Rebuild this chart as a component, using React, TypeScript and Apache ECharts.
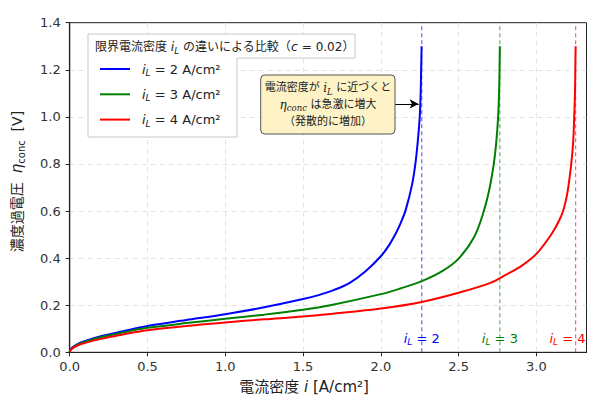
import React, { useEffect, useRef } from "react";
import * as echarts from "echarts";

const blueData: number[][] = [
  [0, 0], [0.004, 0.01], [0.01, 0.016], [0.02, 0.022], [0.05, 0.035], [0.1, 0.048], [0.2, 0.068],
  [0.3, 0.083], [0.4, 0.098], [0.5, 0.112], [0.75, 0.137], [1.0, 0.162], [1.25, 0.191],
  [1.5, 0.226], [1.6, 0.243], [1.7, 0.265], [1.8, 0.295], [1.9, 0.343], [2.0, 0.408], [2.05, 0.452],
  [2.1, 0.51], [2.13, 0.553], [2.16, 0.605], [2.2, 0.71], [2.222, 0.8], [2.238, 0.9],
  [2.25, 1.0], [2.256, 1.1], [2.259, 1.2], [2.262, 1.3],
];
const greenData: number[][] = [
  [0, 0], [0.004, 0.009], [0.01, 0.014], [0.02, 0.02], [0.05, 0.032], [0.1, 0.045], [0.2, 0.064],
  [0.3, 0.078], [0.4, 0.092], [0.5, 0.104], [0.75, 0.124], [1.0, 0.142], [1.25, 0.16],
  [1.5, 0.181], [1.675, 0.2], [2.0, 0.247], [2.125, 0.271], [2.263, 0.302], [2.4, 0.347],
  [2.5, 0.398], [2.6, 0.49], [2.662, 0.6], [2.7, 0.7], [2.726, 0.8], [2.743, 0.9],
  [2.754, 1.0], [2.76, 1.1], [2.763, 1.2], [2.765, 1.3],
];
const redData: number[][] = [
  [0, 0], [0.004, 0.008], [0.01, 0.012], [0.02, 0.018], [0.05, 0.029], [0.1, 0.04], [0.2, 0.057],
  [0.3, 0.07], [0.4, 0.083], [0.5, 0.094], [0.75, 0.112], [1.0, 0.127], [1.25, 0.14],
  [1.5, 0.152], [1.675, 0.163], [2.0, 0.186], [2.263, 0.214], [2.5, 0.253], [2.705, 0.295],
  [2.8, 0.328], [2.9, 0.365], [3.0, 0.418], [3.1, 0.505], [3.15, 0.565], [3.177, 0.612],
  [3.2, 0.68], [3.224, 0.8], [3.237, 0.9], [3.243, 1.0], [3.248, 1.1], [3.25, 1.2], [3.252, 1.3],
];

const limitValues = [2, 3, 4];
const limitLinePositions = [2.263, 2.765, 3.252];
const limitLabelX = [2.263, 2.765, 3.2];
const limitLabelY = 0.06;
const yRange = [0, 1.4];
const seriesNames = ["iL = 2 A/cm²", "iL = 3 A/cm²", "iL = 4 A/cm²"];
const colors = ["#0000ff", "#008000", "#ff0000"];
const xTicks = [0, 0.5, 1.0, 1.5, 2.0, 2.5, 3.0];
const arrowStart = [2.093, 1.055];
const arrowEnd = [2.243, 1.055];

const FONT = "DejaVu Sans, 'Noto Sans CJK JP', sans-serif";

export default function App() {
  const ref = useRef<HTMLDivElement>(null);
  useEffect(() => {
    document.body.style.margin = "0";
    if (!ref.current) return;
    const chart = echarts.init(ref.current, undefined, { renderer: "svg" });
    const allData = [blueData, greenData, redData];
    const mathRich = (size: number, color: string) => ({
      i: { fontStyle: "italic", fontSize: size, color, fontFamily: FONT, lineHeight: size + 4 },
      s: { fontStyle: "italic", fontSize: size * 0.7, color, fontFamily: FONT, verticalAlign: "bottom", lineHeight: size + 4 },
      t: { fontSize: size, color, fontFamily: FONT, lineHeight: size + 4 },
    });
    const vlines: any[] = limitLinePositions.map((x, k) => ({
      name: "limit" + k,
      type: "line",
      data: [[x, yRange[0]], [x, yRange[1]]],
      showSymbol: false,
      silent: true,
      lineStyle: { color: colors[k], type: [4, 3], width: 1.2, opacity: 0.6 },
      itemStyle: { color: colors[k] },
      z: 2,
    }));
    const series: any[] = allData.map((d, k) => ({
      name: seriesNames[k],
      type: "line",
      data: d,
      showSymbol: false,
      smooth: 0.35,
      lineStyle: { color: colors[k], width: 2 },
      itemStyle: { color: colors[k] },
      z: 3,
      markLine:
        k === 0
          ? {
              silent: true,
              symbol: ["none", "arrow"],
              symbolSize: [7, 9],
              animation: false,
              label: { show: false },
              lineStyle: { color: "#000", type: "solid", width: 1, opacity: 1 },
              data: [[{ coord: arrowStart }, { coord: arrowEnd }]],
            }
          : undefined,
      markPoint: {
        silent: true,
        animation: false,
        symbol: "circle",
        symbolSize: 0,
        data: [
          {
            coord: [limitLabelX[k], limitLabelY],
            label: {
              show: true,
              position: "inside",
              formatter: `{i|i}{s|L}{t| = ${limitValues[k]}}`,
              rich: mathRich(13, colors[k]),
            },
          },
        ],
      },
    }));

    const option: any = {
      animation: false,
      backgroundColor: "#fff",
      textStyle: { fontFamily: FONT },
      grid: {
        left: 69.7, right: 4.5, top: 22.7, bottom: 52.7,
        show: true, borderColor: "#222", borderWidth: 1, backgroundColor: "transparent",
      },
      xAxis: {
        type: "value", min: 0, max: 3.322, interval: 0.5,
        axisLine: { lineStyle: { color: "#222", width: 1.2 } },
        axisTick: { show: true, inside: false, length: 4, lineStyle: { color: "#222" } },
        axisLabel: {
          color: "#333", fontSize: 13, margin: 8, fontFamily: FONT, showMaxLabel: false,
          formatter: (v: number) => (xTicks.some((t) => Math.abs(t - v) < 1e-6) ? v.toFixed(1) : ""),
        },
        splitLine: { show: true, showMinLine: false, showMaxLine: false, lineStyle: { color: "#dcdcdc", type: [5, 4], width: 0.8 } },
        name: "電流密度 {i|i} [A/cm²]",
        nameLocation: "middle",
        nameGap: 27,
        nameTextStyle: {
          fontSize: 15, color: "#222", fontFamily: FONT, padding: [0, 48, 0, 0],
          rich: { i: { fontStyle: "italic", fontSize: 15, color: "#222", fontFamily: FONT } },
        },
      },
      yAxis: {
        type: "value", min: yRange[0], max: yRange[1], interval: 0.2,
        axisLine: { show: true, lineStyle: { color: "#222", width: 1.2 } },
        axisTick: { show: true, inside: false, length: 4, lineStyle: { color: "#222" } },
        axisLabel: { color: "#333", fontSize: 13, margin: 9, fontFamily: FONT, formatter: (v: number) => v.toFixed(1) },
        splitLine: { show: true, showMinLine: false, showMaxLine: false, lineStyle: { color: "#dcdcdc", type: [5, 4], width: 0.8 } },
        name: "濃度過電圧  {e|η}{c|conc}  [V]",
        nameLocation: "middle",
        nameGap: 43,
        nameRotate: 90,
        nameTextStyle: {
          fontSize: 14, color: "#222", fontFamily: FONT, padding: [0, 0, 0, 12],
          rich: {
            e: { fontStyle: "italic", fontSize: 15, color: "#222", fontFamily: FONT, lineHeight: 20 },
            c: { fontSize: 10, color: "#222", fontFamily: FONT, verticalAlign: "bottom", lineHeight: 20 },
          },
        },
      },
      legend: {
        show: true,
        orient: "vertical",
        left: 100,
        top: 62.5,
        padding: 0,
        itemGap: 10.3,
        itemWidth: 30,
        itemHeight: 2,
        icon: "rect",
        data: seriesNames,
        selectedMode: false,
        formatter: (name: string) => {
          const n = name.split(" = ")[1].split(" ")[0];
          return `{i|i}{s|L}{t| = ${n} A/cm²}`;
        },
        textStyle: {
          padding: [0, 0, 0, 7],
          rich: mathRich(13, "#222"),
        },
        z: 10,
      },
      graphic: [
        {
          type: "polygon",
          z: 5,
          shape: { points: [[88, 34], [355, 34], [355, 58], [237, 58], [237, 137], [88, 137]] },
          style: { fill: "rgba(255,255,255,0.9)", stroke: "#c8c8c8", lineWidth: 1 },
        },
        {
          type: "text",
          z: 6,
          x: 95,
          y: 46.5,
          style: {
            text: "限界電流密度 {i|i}{s|L} の違いによる比較（{i|c} = 0.02）",
            fontSize: 12,
            fill: "#222",
            fontFamily: FONT,
            verticalAlign: "middle",
            rich: {
              i: { fontStyle: "italic", fontSize: 12.5, fontFamily: FONT, fill: "#222", lineHeight: 17 },
              s: { fontStyle: "italic", fontSize: 9, fontFamily: FONT, fill: "#222", verticalAlign: "bottom", lineHeight: 17 },
            },
          },
        },
        {
          type: "rect",
          z: 5,
          shape: { x: 260.7, y: 75, width: 134.3, height: 59, r: 4 },
          style: { fill: "#fdf3c6", stroke: "#555", lineWidth: 1 },
        },
        {
          type: "text",
          z: 6,
          x: 328,
          y: 104.5,
          style: {
            text: "電流密度が {i|i}{s|L} に近づくと\n{i|η}{s|conc} は急激に増大\n（発散的に増加）",
            fontSize: 11,
            lineHeight: 16.7,
            fill: "#222",
            fontFamily: FONT,
            align: "center",
            verticalAlign: "middle",
            rich: {
              i: { fontStyle: "italic", fontSize: 12, fontFamily: "DejaVu Serif, serif", fill: "#222", lineHeight: 16.7 },
              s: { fontStyle: "italic", fontSize: 8.5, fontFamily: "DejaVu Serif, serif", fill: "#222", verticalAlign: "bottom", lineHeight: 16.7 },
            },
          },
        },
      ],
      series: [...vlines, ...series],
    };
    chart.setOption(option);
    return () => chart.dispose();
  }, []);
  return <div ref={ref} style={{ width: 591, height: 405 }} />;
}
